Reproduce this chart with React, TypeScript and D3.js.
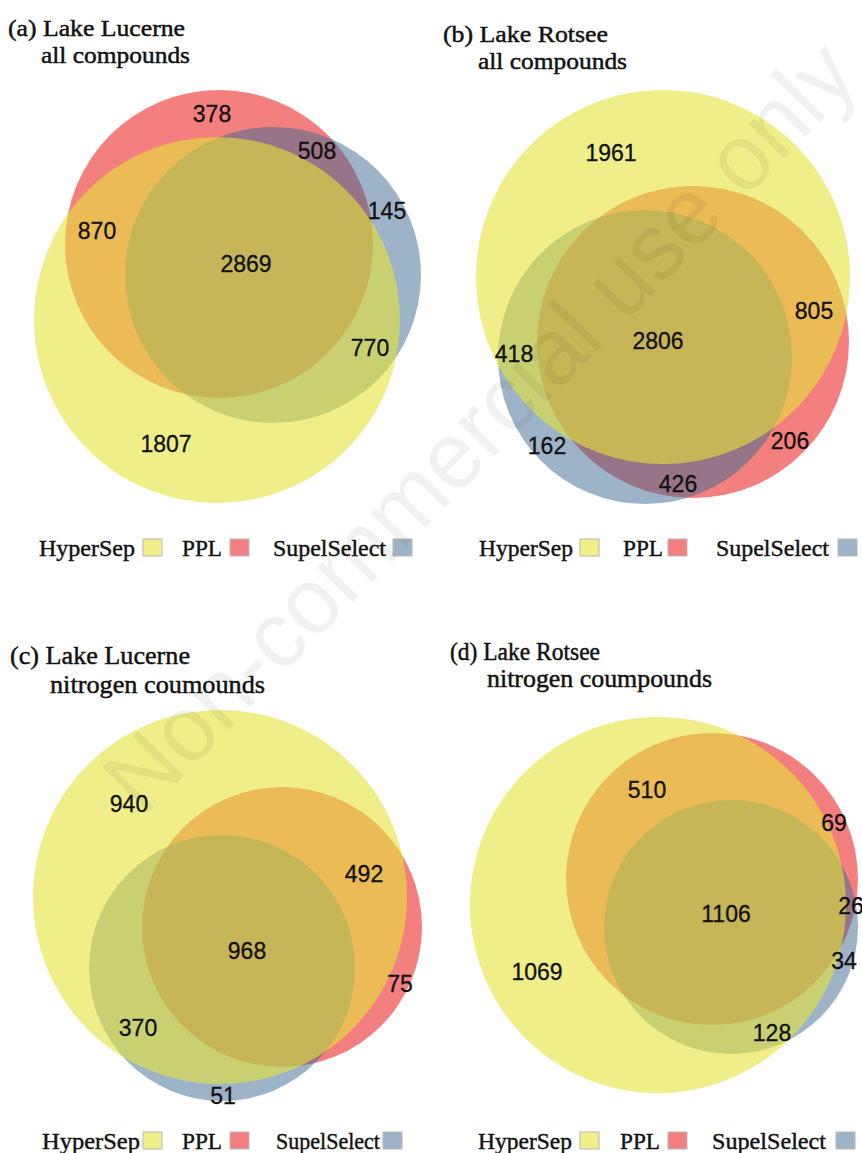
import React from "react";
import * as d3 from "d3";

// ---------- data ----------
const setNames = ["HyperSep", "PPL", "SupelSelect"];
const setColors = ["#E6E238", "#E80000", "#3B6991"];
const setOpacity = [0.6, 0.5, 0.5];
const legendSwatch = ["#F2EE8A", "#F28080", "#9DB4C8"];

const titleLine1 = ["(a) Lake Lucerne", "(b) Lake Rotsee", "(c) Lake Lucerne", "(d) Lake Rotsee"];
const titleLine2 = ["all compounds", "all compounds", "nitrogen coumounds", "nitrogen coumpounds"];

// region counts: Y only, R only, B only, Y&R, Y&B, R&B, Y&R&B  (null = not shown)
const regionKeys = ["Y", "R", "B", "YR", "YB", "RB", "YRB"];
const countsA = [1807, 378, 145, 870, 770, 508, 2869];
const countsB = [1961, 206, 162, 805, 418, 426, 2806];
const countsC = [940, 75, 51, 492, 370, null, 968];
const countsD = [1069, 69, 34, 510, 128, 26, 1106];
const allCounts = [countsA, countsB, countsC, countsD];

// ---------- layout (positions only) ----------
// circles drawn in order: PPL (red), SupelSelect (blue), HyperSep (yellow)
const circleLayout = [
  { Y: [217, 320, 183], R: [219, 244, 154], B: [273, 275, 148] },
  { Y: [663, 277, 187], R: [693, 342, 156], B: [645, 357, 147] },
  { Y: [220, 897, 187], R: [282, 927, 140], B: [222, 968, 133] },
  { Y: [658, 905, 188], R: [712, 879, 146], B: [731, 927, 127] },
];
const labelLayout = [
  { Y: [166, 443], R: [212, 113], B: [387, 210], YR: [97, 230], YB: [370, 347], RB: [317, 150], YRB: [246, 263] },
  { Y: [611, 152], R: [790, 440], B: [547, 445], YR: [814, 310], YB: [514, 353], RB: [678, 483], YRB: [658, 340] },
  { Y: [129, 803], R: [400, 983], B: [223, 1095], YR: [364, 873], YB: [138, 1027], RB: [0, 0], YRB: [247, 950] },
  { Y: [537, 971], R: [834, 822], B: [844, 960], YR: [647, 789], YB: [772, 1032], RB: [851, 905], YRB: [726, 913] },
];
const titleLayout = [
  { x1: 8, y1: 36, w1: 177, x2: 41, y2: 63, w2: 149, fs: 23 },
  { x1: 443, y1: 42, w1: 165, x2: 478, y2: 69, w2: 149, fs: 23 },
  { x1: 10, y1: 664, w1: 180, x2: 50, y2: 693, w2: 215, fs: 25 },
  { x1: 450, y1: 660, w1: 150, x2: 487, y2: 687, w2: 225, fs: 25 },
];
const legendLayout = [
  { y: 556, text: [39, 182, 273], tw: [96, 40, 113], sq: [143, 230, 393] },
  { y: 556, text: [479, 623, 716], tw: [94, 40, 113], sq: [580, 668, 838] },
  { y: 1149, text: [42, 182, 276], tw: [98, 40, 104], sq: [143, 230, 383] },
  { y: 1149, text: [478, 620, 712], tw: [94, 40, 114], sq: [580, 668, 836] },
];

const color = d3.scaleOrdinal<string, string>().domain(setNames).range(setColors);
const drawOrder: Array<[string, number]> = [["R", 1], ["B", 2], ["Y", 0]];
const serif = "'Liberation Serif', 'Times New Roman', serif";

export default function App() {
  return (
    <svg width={862} height={1153} style={{ position: "absolute", left: 0, top: 0, background: "#fff" }}>
      <rect x={0} y={0} width={862} height={1153} fill="#fff" />
      {circleLayout.map((cl, pi) => (
        <g key={"p" + pi}>
          {drawOrder.map(([k, si]) => {
            const [cx, cy, r] = (cl as any)[k];
            return (
              <circle key={k} cx={cx} cy={cy} r={r} fill={color(setNames[si])} fillOpacity={setOpacity[si]} />
            );
          })}
          {regionKeys.map((rk, ri) => {
            const v = allCounts[pi][ri];
            if (v == null) return null;
            const [x, y] = (labelLayout[pi] as any)[rk];
            return (
              <text key={rk} x={x} y={y + 8.5} textAnchor="middle" fontFamily="'Liberation Sans', Arial, sans-serif"
                fontSize={23} fill="#111" stroke="#111" strokeWidth={0.3}>{v}</text>
            );
          })}
          <text x={titleLayout[pi].x1} y={titleLayout[pi].y1} fontFamily={serif}
            fontSize={titleLayout[pi].fs} textLength={titleLayout[pi].w1} lengthAdjust="spacingAndGlyphs" fill="#111"
            stroke="#111" strokeWidth={0.45}>
            {titleLine1[pi]}
          </text>
          <text x={titleLayout[pi].x2} y={titleLayout[pi].y2} fontFamily={serif}
            fontSize={titleLayout[pi].fs} textLength={titleLayout[pi].w2} lengthAdjust="spacingAndGlyphs" fill="#111"
            stroke="#111" strokeWidth={0.45}>
            {titleLine2[pi]}
          </text>
          {setNames.map((nm, si) => {
            const L = legendLayout[pi];
            return (
              <g key={nm}>
                <text x={L.text[si]} y={L.y} fontFamily={serif} fontSize={23}
                  textLength={L.tw[si]} lengthAdjust="spacingAndGlyphs" fill="#111" stroke="#111" strokeWidth={0.4}>{nm}</text>
                <rect x={L.sq[si]} y={L.y - 17} width={19} height={17} fill={legendSwatch[si]} stroke="#b8b8b8" strokeWidth={1} />
              </g>
            );
          })}
        </g>
      ))}
      <text x={0} y={0} transform="translate(478,425) rotate(-45.8)" textAnchor="middle" dy="0.36em"
        fontFamily="'Liberation Sans', Arial, sans-serif" fontSize={94} textLength={1030} lengthAdjust="spacingAndGlyphs"
        fill="#000" fillOpacity={0.055}>Non-commercial use only</text>
    </svg>
  );
}
